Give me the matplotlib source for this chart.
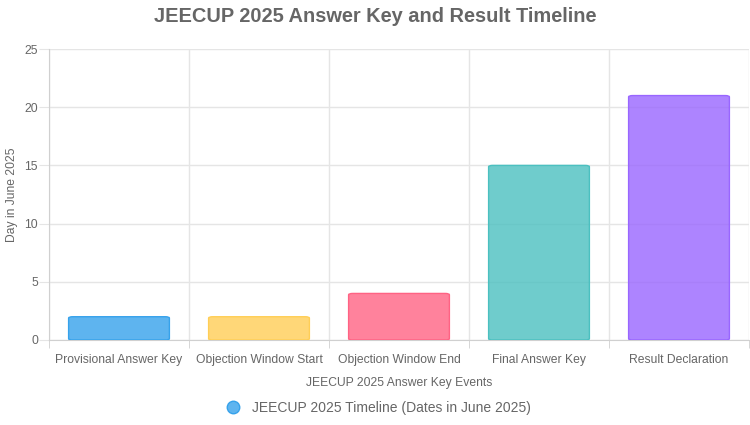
import matplotlib
matplotlib.use("Agg")
import matplotlib.pyplot as plt
from matplotlib.patches import FancyBboxPatch
from matplotlib.lines import Line2D
import numpy as np

events = ["Provisional Answer Key", "Objection Window Start", "Objection Window End",
          "Final Answer Key", "Result Declaration"]
days = [2, 2, 4, 15, 21]
fill_colors = [(54/255, 162/255, 235/255, 0.8), (255/255, 206/255, 86/255, 0.8),
               (255/255, 99/255, 132/255, 0.8), (75/255, 192/255, 192/255, 0.8),
               (153/255, 102/255, 255/255, 0.8)]
edge_colors = ["#36a2eb", "#ffce56", "#ff6384", "#4bc0c0", "#9966ff"]

plt.rcParams['font.family'] = ['Liberation Sans', 'DejaVu Sans']
txt = "#666666"
grid = "#e5e5e5"

fig = plt.figure(figsize=(7.5, 4.25), dpi=100)
ax = fig.add_axes([49/750, 85/425, 700/750, 291/425])

x = np.arange(len(events))
bars = ax.bar(x, days, width=0.72, color=fill_colors, edgecolor=edge_colors, linewidth=1)
# swap plain bars for slightly rounded ones
for b in bars:
    b.set_visible(False)
    p = FancyBboxPatch((b.get_x(), 0), b.get_width(), b.get_height(),
                       boxstyle="round,pad=0,rounding_size=0.03",
                       mutation_aspect=4.0, facecolor=b.get_facecolor(),
                       edgecolor=b.get_edgecolor(), linewidth=1, zorder=3)
    ax.add_patch(p)

ax.set_xlim(-0.5, len(events) - 0.5)
ax.set_ylim(0, 25)
ax.set_yticks([0, 5, 10, 15, 20, 25])
ax.set_xticks(x)
ax.set_xticklabels(events)
ax.set_xticks(np.arange(-0.5, len(events)), minor=True)
ax.tick_params(axis='x', which='major', length=0, pad=10, labelsize=8.7, labelcolor=txt)
ax.tick_params(axis='x', which='minor', length=6, color="#d0d0d0")
ax.tick_params(axis='y', length=7, color=grid, labelsize=8.7, labelcolor=txt, pad=1)
ax.grid(axis='y', color=grid, linewidth=1, zorder=0)
ax.grid(axis='x', which='minor', color=grid, linewidth=1, zorder=0)
ax.set_axisbelow(True)
for s in ["top", "right"]:
    ax.spines[s].set_visible(False)
ax.spines["left"].set_color("#d0d0d0")
ax.spines["bottom"].set_color("#d0d0d0")

ax.set_xlabel("JEECUP 2025 Answer Key Events", fontsize=8.7, color=txt, labelpad=8)
ax.set_ylabel("Day in June 2025", fontsize=8.7, color=txt)
ax.yaxis.set_label_coords(-31/700, 0.5)
fig.text(0.5, 1 - 17/425, "JEECUP 2025 Answer Key and Result Timeline",
         ha='center', va='center', fontsize=14.4, fontweight='bold', color=txt)

handle = Line2D([], [], marker='o', linestyle='none', markersize=9,
                markerfacecolor=fill_colors[0], markeredgecolor=edge_colors[0])
fig.legend([handle], ["JEECUP 2025 Timeline (Dates in June 2025)"], loc='center',
           bbox_to_anchor=(0.5, 1 - 408/425), frameon=False, fontsize=10,
           labelcolor=txt, handletextpad=0.3)

fig.savefig("out.png", dpi=100)
